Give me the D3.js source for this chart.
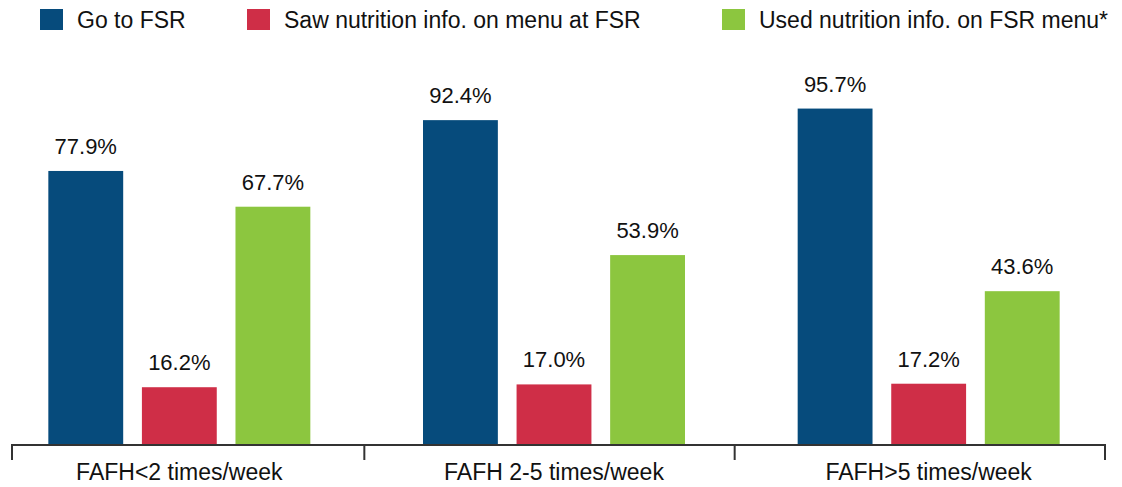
<!DOCTYPE html>
<html>
<head>
<meta charset="utf-8">
<script src="https://cdn.jsdelivr.net/npm/d3@7"></script>
<style>
  body { margin: 0; background: #fff; }
  text { font-family: "Liberation Sans", Arial, Helvetica, sans-serif; fill: #111; }
</style>
</head>
<body>
<div id="chart"></div>
<script>
const groups = ["FAFH<2 times/week", "FAFH 2-5 times/week", "FAFH>5 times/week"];
const seriesNames = ["Go to FSR", "Saw nutrition info. on menu at FSR", "Used nutrition info. on FSR menu*"];
const goToFSR = [77.9, 92.4, 95.7];
const sawInfo = [16.2, 17.0, 17.2];
const usedInfo = [67.7, 53.9, 43.6];
const colors = ["#064b7c", "#cf2e47", "#8cc63f"];

const width = 1122, height = 487;
const baseY = 444;
const axisLeft = 12;

const svg = d3.select("#chart")
    .append("svg")
    .attr("width", width)
    .attr("height", height);

const values = [goToFSR, sawInfo, usedInfo];

// bars are centred in their groups
const x0 = d3.scaleBand().domain(groups).range([-8, 1116]);
const x1 = d3.scaleBand().domain(seriesNames).range([0, 262]).paddingInner(0.2);
const y = d3.scaleLinear().domain([0, 100]).range([baseY, 93.5]);

// separate scale for the bracket-style axis ticks
const xAxisScale = d3.scaleBand().domain(groups).range([-6, 1105]);

const g = svg.selectAll(".group")
    .data(groups)
    .enter()
    .append("g")
    .attr("class", "group")
    .attr("transform", (d) => "translate(" + (x0(d) + (x0.bandwidth() - 262) / 2) + ",0)");

g.selectAll("rect")
    .data((d, i) => seriesNames.map((s, j) => ({ s: s, v: values[j][i], j: j })))
    .enter()
    .append("rect")
    .attr("x", (d) => x1(d.s))
    .attr("y", (d) => y(d.v))
    .attr("width", x1.bandwidth())
    .attr("height", (d) => baseY - y(d.v))
    .attr("fill", (d) => colors[d.j]);

g.selectAll(".val")
    .data((d, i) => seriesNames.map((s, j) => ({ s: s, v: values[j][i] })))
    .enter()
    .append("text")
    .attr("class", "val")
    .attr("x", (d) => x1(d.s) + x1.bandwidth() / 2)
    .attr("y", (d) => y(d.v) - 17)
    .attr("text-anchor", "middle")
    .style("font-size", "22px")
    .text((d) => d.v.toFixed(1) + "%");

// axis line and ticks
const axis = svg.append("g");
axis.append("line")
    .attr("x1", axisLeft)
    .attr("x2", xAxisScale.range()[1])
    .attr("y1", baseY + 1)
    .attr("y2", baseY + 1)
    .attr("stroke", "#333")
    .attr("stroke-width", 2);

const tickPos = groups.map((d) => Math.max(axisLeft, xAxisScale(d))).concat([xAxisScale.range()[1]]);
axis.selectAll(".tick")
    .data(tickPos)
    .enter()
    .append("line")
    .attr("x1", (d) => d)
    .attr("x2", (d) => d)
    .attr("y1", baseY)
    .attr("y2", 460)
    .attr("stroke", "#333")
    .attr("stroke-width", 2);

axis.selectAll(".lbl")
    .data(groups)
    .enter()
    .append("text")
    .attr("x", (d) => x0(d) + x0.bandwidth() / 2)
    .attr("y", 480)
    .attr("text-anchor", "middle")
    .style("font-size", "23px")
    .text((d) => d);

// legend
const legendX = [40, 247, 722];
const legend = svg.selectAll(".legend")
    .data(seriesNames)
    .enter()
    .append("g")
    .attr("transform", (d, i) => "translate(" + legendX[i] + ",9)");

legend.append("rect")
    .attr("width", 23)
    .attr("height", 21)
    .attr("fill", (d, i) => colors[i]);

legend.append("text")
    .attr("x", 37)
    .attr("y", 19)
    .style("font-size", "23px")
    .text((d) => d);
</script>
</body>
</html>
